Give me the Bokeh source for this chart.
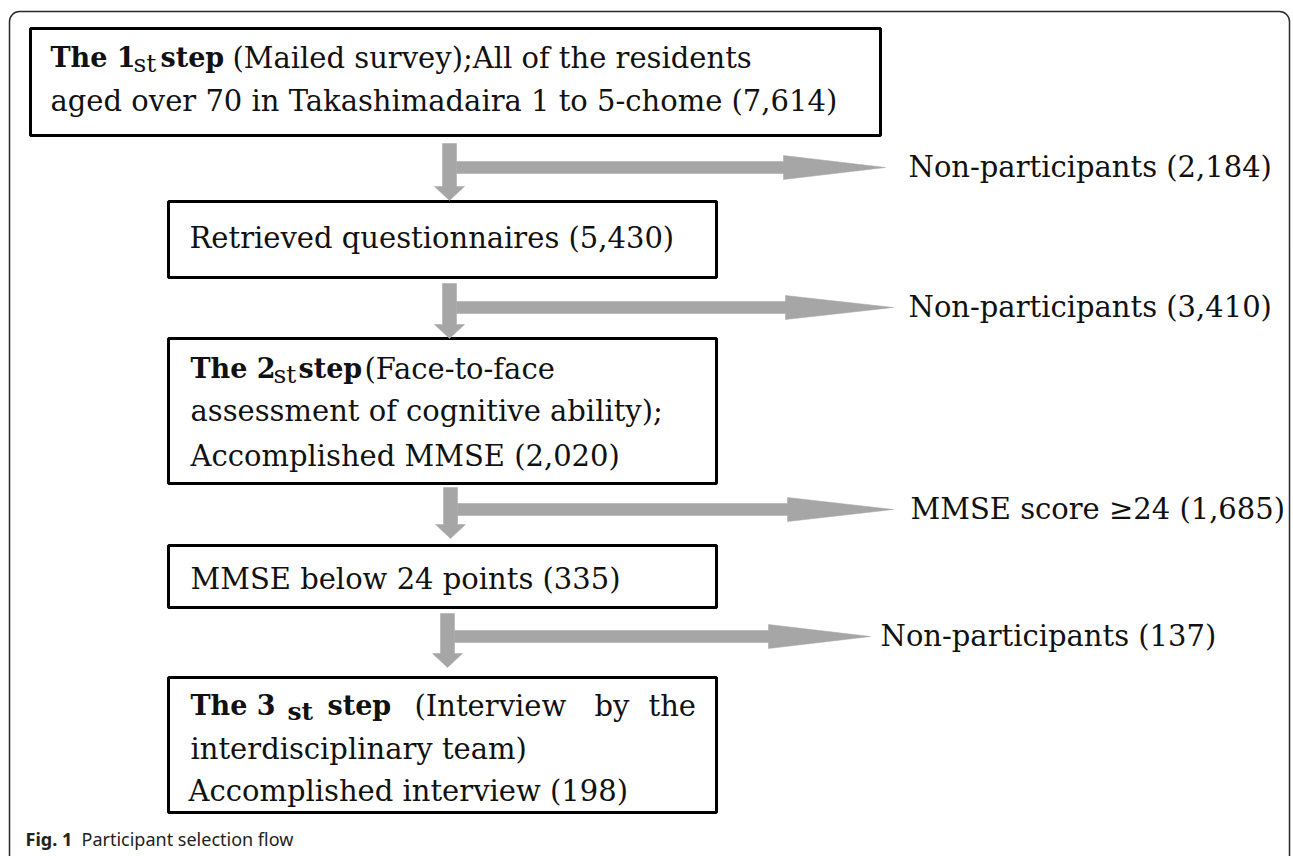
from bokeh.plotting import figure
from bokeh.models import Range1d, BoxAnnotation, ColumnDataSource
from bokeh.embed import file_html
from bokeh.resources import INLINE
from bokeh.core.properties import value

# ---------------- data ----------------
step_counts = [7614, 5430, 2020, 335, 198]
excluded_names = ["Non-participants", "Non-participants", "MMSE score \u226524", "Non-participants"]
excluded_counts = [2184, 3410, 1685, 137]
caption_bold = "Fig. 1"
caption_text = "Participant selection flow"

# ---------------- layout ----------------
W, H = 1293, 856
SERIF = "DejaVu Serif"
FS = "29px"
BFS = "27px"

box_left = [30, 168, 168, 168, 168]
box_right = [880, 716, 716, 716, 716]
box_top = [28, 201, 338, 545, 677]
box_bottom = [135, 277, 483, 607, 812]

arr_x = [449, 449, 450, 447]
arr_top = [143, 283, 487, 613]
arr_tip = [200, 338, 538, 667]
arr_hy = [167, 307, 509, 636]
arr_head = [783, 785, 787, 768]
arr_htip = [885, 893, 893, 870]
lab_x = [908, 908, 910, 880]

p = figure(width=W, height=H, x_range=Range1d(0, W), y_range=Range1d(H, 0),
           output_backend="svg", toolbar_location=None,
           x_axis_location=None, y_axis_location=None, min_border=0,
           outline_line_color=None, background_fill_color="white",
           border_fill_color="white")
p.grid.visible = False

# outer rounded frame
p.add_layout(BoxAnnotation(left=9, right=1289, top=11, bottom=900, border_radius=10,
                           fill_alpha=0, line_color="#2a2a2a", line_alpha=1.0,
                           line_width=1.5))

# boxes
p.quad(left=box_left, right=box_right, top=box_top, bottom=box_bottom,
       fill_color="white", line_color="black", line_width=3)

# arrows
xs, ys = [], []
for vx, t, tip, hy, hh, ht in zip(arr_x, arr_top, arr_tip, arr_hy, arr_head, arr_htip):
    hs = tip - 14
    xs.append([vx - 7, vx + 7, vx + 7, vx + 15, vx, vx - 15, vx - 7])
    ys.append([t, t, hs, hs, tip, hs, hs])
    xs.append([vx + 7, hh, hh, ht, hh, hh, vx + 7])
    ys.append([hy - 6, hy - 6, hy - 12, hy, hy + 12, hy + 6, hy + 6])
p.patches(xs=xs, ys=ys, fill_color="#a6a6a6", line_color="#a6a6a6", line_width=0.5)


def add_text(items, font=SERIF, size=FS, style="normal", color="#111111"):
    src = ColumnDataSource(dict(x=[i[0] for i in items], y=[i[1] for i in items],
                                text=[i[2] for i in items]))
    p.text(x="x", y="y", text="text", source=src, text_font=value(font),
           text_font_size=size, text_font_style=style, text_color=color,
           text_align="left", text_baseline="middle")


# regular text
regular = [
    (232, 57, "(Mailed survey);All of the residents"),
    (50, 100, f"aged over 70 in Takashimadaira 1 to 5-chome ({step_counts[0]:,})"),
    (189, 237, f"Retrieved questionnaires ({step_counts[1]:,})"),
    (364, 368, "(Face-to-face"),
    (190, 410, "assessment of cognitive ability);"),
    (190, 455, f"Accomplished  MMSE ({step_counts[2]:,})"),
    (190, 578, f"MMSE below 24 points ({step_counts[3]:,})"),
    (414, 705, "(Interview"),
    (594, 705, "by"),
    (648, 705, "the"),
    (190, 748, "interdisciplinary team)"),
    (188, 790, f"Accomplished  interview ({step_counts[4]:,})"),
]
for i, (nm, c) in enumerate(zip(excluded_names, excluded_counts)):
    regular.append((lab_x[i], arr_hy[i] - 1, f"{nm} ({c:,})"))
add_text(regular)

# bold text
bold = [
    (50, 57, "The 1"), (160, 57, "step"),
    (190, 368, "The 2"), (298, 368, "step"),
    (190, 705, "The 3"), (327, 705, "step"),
]
add_text(bold, size=BFS, style="bold")

# subscript-like "st"
add_text([(133, 63, "st"), (273, 374, "st")], size="25px")
add_text([(287, 711, "st")], size="25px", style="bold")

# caption
add_text([(25, 838, caption_bold)], font="Noto Sans", size="18px", style="bold", color="#222222")
add_text([(81, 838, caption_text)], font="Noto Sans", size="18px", color="#222222")

open("out.html", "w").write(file_html(p, INLINE))
